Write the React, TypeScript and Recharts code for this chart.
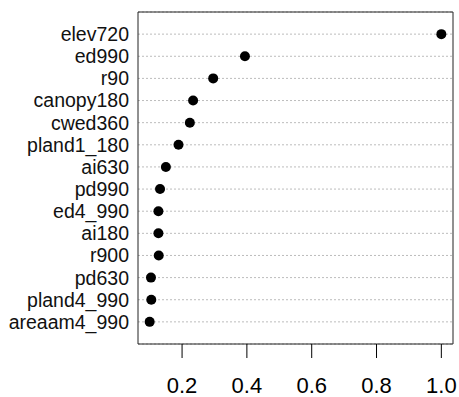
import React from "react";
import {
  ScatterChart,
  Scatter,
  XAxis,
  YAxis,
  CartesianGrid,
  ReferenceArea,
} from "recharts";

// variables, top to bottom as shown
const variables: string[] = [
  "elev720",
  "ed990",
  "r90",
  "canopy180",
  "cwed360",
  "pland1_180",
  "ai630",
  "pd990",
  "ed4_990",
  "ai180",
  "r900",
  "pd630",
  "pland4_990",
  "areaam4_990",
];

const importance: number[] = [
  1.0, 0.394, 0.296, 0.234, 0.224, 0.189, 0.15, 0.132, 0.127, 0.127, 0.128, 0.104, 0.105, 0.1,
];

const xTicks: number[] = [0.2, 0.4, 0.6, 0.8, 1.0];

// R dotchart pads the data range by 4% on each side, rows sit at 1..n
const xDomain: [number, number] = [0.064, 1.036];
const n = variables.length;
const rowTicks = variables.map((_, i) => n - i);

const data = variables.map((name, i) => ({ name, x: importance[i], y: n - i }));

const labelFor = (v: number) => variables[n - v] ?? "";

const Dot = (props: any) => <circle cx={props.cx} cy={props.cy} r={5} fill="#000" />;

export default function App() {
  return (
    <div
      style={{
        position: "absolute",
        left: 0,
        top: 0,
        width: 459,
        height: 397,
        background: "#fff",
        fontFamily: "'Liberation Sans', Arial, sans-serif",
      }}
    >
      <ScatterChart width={459} height={397} margin={{ top: 12, right: 6, bottom: 0, left: 0 }}>
        <CartesianGrid vertical={false} stroke="#bcbcbc" strokeDasharray="2 2" />
        <XAxis
          type="number"
          dataKey="x"
          domain={xDomain}
          allowDataOverflow
          ticks={xTicks}
          tickFormatter={(v: number) => v.toFixed(1)}
          height={53}
          axisLine={false}
          tickSize={14}
          tickLine={{ stroke: "#000" }}
          tickMargin={19}
          tick={{ fontSize: 22, fill: "#000" }}
        />
        <YAxis
          type="number"
          dataKey="y"
          domain={[0, n + 1]}
          ticks={rowTicks}
          interval={0}
          tickFormatter={labelFor}
          width={138}
          axisLine={false}
          tickLine={false}
          tickSize={0}
          tickMargin={9}
          tick={{ fontSize: 19.5, fill: "#111" }}
        />
        <ReferenceArea
          x1={xDomain[0]}
          x2={xDomain[1]}
          y1={0}
          y2={n + 1}
          fill="none"
          stroke="#222"
          strokeWidth={1}
        />
        <Scatter data={data} shape={Dot} isAnimationActive={false} />
      </ScatterChart>
    </div>
  );
}
